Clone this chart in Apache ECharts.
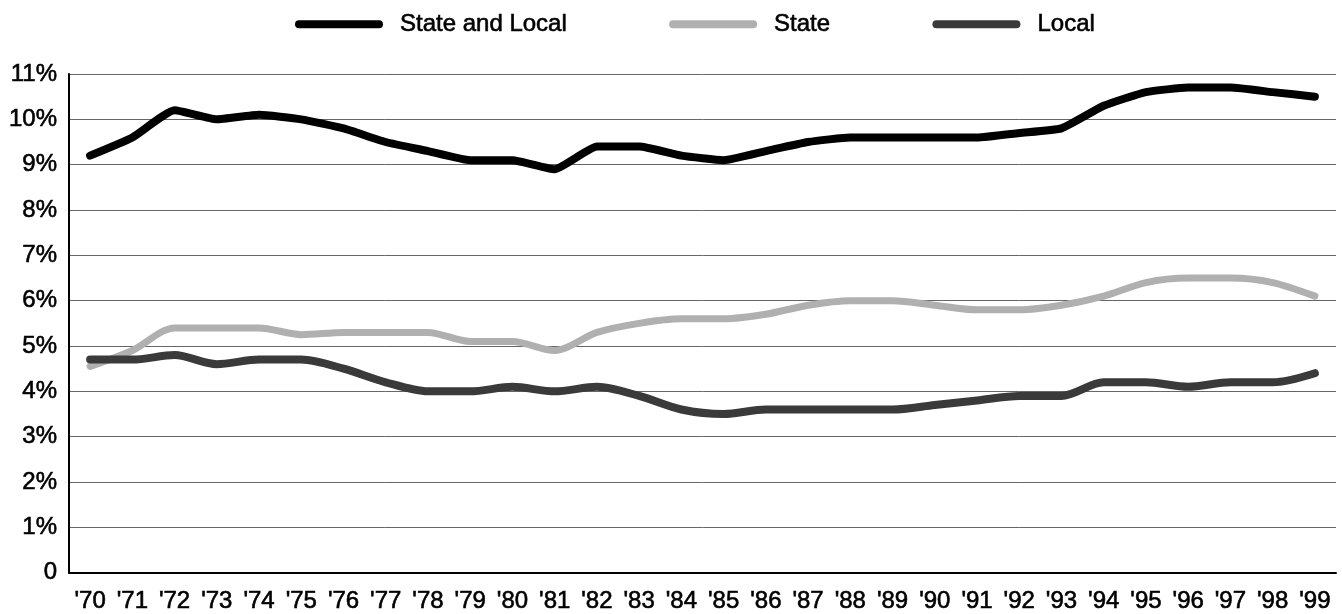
<!DOCTYPE html>
<html>
<head>
<meta charset="utf-8">
<title>State and Local</title>
<script src="https://cdn.jsdelivr.net/npm/echarts@6/dist/echarts.min.js"></script>
<style>
	html, body { margin: 0; padding: 0; background: #fff; }
	#chart { width: 1342px; height: 614px; }
</style>
</head>
<body>
<div id="chart"></div>
<script>
// 数据
var years = ["'70", "'71", "'72", "'73", "'74", "'75", "'76", "'77", "'78", "'79",
	"'80", "'81", "'82", "'83", "'84", "'85", "'86", "'87", "'88", "'89",
	"'90", "'91", "'92", "'93", "'94", "'95", "'96", "'97", "'98", "'99"];
var stateAndLocal = [9.2, 9.6, 10.2, 10.0, 10.1, 10.0, 9.8, 9.5, 9.3, 9.1,
	9.1, 8.9, 9.4, 9.4, 9.2, 9.1, 9.3, 9.5, 9.6, 9.6,
	9.6, 9.6, 9.7, 9.8, 10.3, 10.6, 10.7, 10.7, 10.6, 10.5];
var state = [4.55, 4.9, 5.4, 5.4, 5.4, 5.25, 5.3, 5.3, 5.3, 5.1,
	5.1, 4.9, 5.3, 5.5, 5.6, 5.6, 5.7, 5.9, 6.0, 6.0,
	5.9, 5.8, 5.8, 5.9, 6.1, 6.4, 6.5, 6.5, 6.4, 6.1];
var local = [4.7, 4.7, 4.8, 4.6, 4.7, 4.7, 4.5, 4.2, 4.0, 4.0,
	4.1, 4.0, 4.1, 3.9, 3.6, 3.5, 3.6, 3.6, 3.6, 3.6,
	3.7, 3.8, 3.9, 3.9, 4.2, 4.2, 4.1, 4.2, 4.2, 4.4];
var seriesNames = ['State and Local', 'State', 'Local'];

var myChart = echarts.init(document.getElementById('chart'));
var font = 'Liberation Sans, Arial, Helvetica, sans-serif';
var legendIcon = 'path://M4,0 L84,0 A4,4 0 0 1 84,8 L4,8 A4,4 0 0 1 4,0 Z';
// 文字稍加粗
var txt = {
	fontFamily: font,
	fontSize: 24,
	color: '#000',
	textBorderColor: '#000',
	textBorderWidth: 0.6
};

option = {
	animation: false,
	backgroundColor: '#fff',
	legend: {
		left: 290,
		top: 7,
		itemWidth: 88,
		itemHeight: 9,
		itemGap: 102,
		icon: legendIcon,
		textStyle: Object.assign({ padding: [0, 0, 0, 12] }, txt),
		data: seriesNames
	},
	grid: {
		left: 69,
		right: 6,
		top: 74,
		bottom: 41
	},
	xAxis: {
		type: 'category',
		boundaryGap: true,
		data: years,
		axisLine: { lineStyle: { color: '#000', width: 2 } },
		axisTick: { inside: true, length: 11, lineStyle: { color: '#000', width: 2 } },
		axisLabel: Object.assign({ interval: 0, margin: 17 }, txt)
	},
	yAxis: {
		type: 'value',
		min: 0,
		max: 11,
		interval: 1,
		axisLine: { show: true, lineStyle: { color: '#000', width: 2 } },
		axisTick: { show: false },
		axisLabel: Object.assign({
			margin: 12,
			formatter: function (v) { return v === 0 ? '0' : v + '%'; }
		}, txt),
		splitLine: { lineStyle: { color: '#666', width: 1 } }
	},
	series: [{
		name: seriesNames[0],
		type: 'line',
		data: stateAndLocal,
		symbol: 'none',
		smooth: 0.15,
		z: 5,
		itemStyle: { color: '#000' },
		lineStyle: { color: '#000', width: 8, cap: 'round', join: 'round' }
	}, {
		name: seriesNames[1],
		type: 'line',
		data: state,
		symbol: 'none',
		smooth: 0.3,
		z: 3,
		itemStyle: { color: '#b0b0b0' },
		lineStyle: { color: '#b0b0b0', width: 7, cap: 'round', join: 'round' }
	}, {
		name: seriesNames[2],
		type: 'line',
		data: local,
		symbol: 'none',
		smooth: 0.3,
		z: 4,
		itemStyle: { color: '#3a3a3a' },
		lineStyle: { color: '#3a3a3a', width: 8, cap: 'round', join: 'round' }
	}]
};
myChart.setOption(option);
</script>
</body>
</html>
